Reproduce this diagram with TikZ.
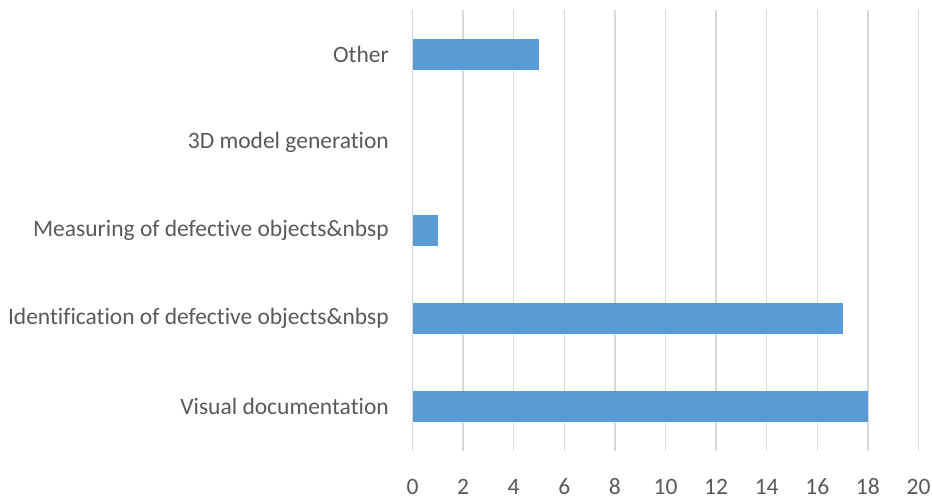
\documentclass[tikz,border=0pt]{standalone}
\usepackage{fontspec}
\setmainfont{Carlito}[Ligatures=NoCommon]
\definecolor{barblue}{HTML}{5B9BD5}
\definecolor{gridgray}{HTML}{D9D9D9}
\definecolor{labelgray}{HTML}{595959}
\tikzset{
  gridline/.style={draw=gridgray, line width=1.5pt},
  bar/.style={fill=barblue, draw=none},
  catlabel/.style={anchor=east, text=labelgray, font=\fontsize{23.5}{26}\selectfont, inner sep=0pt},
  ticklabel/.style={anchor=center, text=labelgray, font=\fontsize{23.5}{26}\selectfont, inner sep=0pt}
}
\begin{document}
\begin{tikzpicture}[x=1pt, y=-1pt]
  \useasboundingbox (0,0) rectangle (932,498);
  % value axis: 0 at 412.5, 25.3 per unit
  \def\xz{412.5}
  \def\unit{25.3}
  % vertical grid lines and tick labels
  \foreach \v in {0,2,...,20} {
    \draw[gridline] ({\xz+\v*\unit},10) -- ({\xz+\v*\unit},451);
    \node[ticklabel] (t\v) at ({\xz+\v*\unit},487) {\v};
  }
  % categories from top to bottom, with their values
  \foreach \i/\lab/\val in {0/Other/5, 1/3D model generation/0, 2/Measuring of defective objects\&nbsp/1, 3/Identification of defective objects\&nbsp/17, 4/Visual documentation/18} {
    \pgfmathsetmacro{\yc}{54.1+\i*88.2}
    \node[catlabel] (c\i) at (389,\yc) {\lab};
    \ifnum\val>0
      \fill[bar] (\xz,{\yc-15.5}) rectangle ({\xz+\val*\unit},{\yc+15.5});
    \fi
  }
\end{tikzpicture}
\end{document}
